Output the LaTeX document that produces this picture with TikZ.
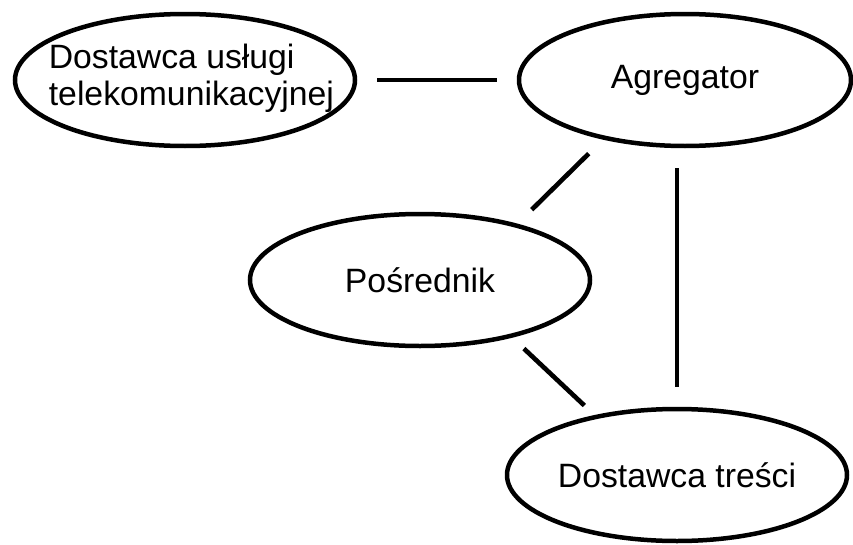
\documentclass[tikz,border=0pt]{standalone}
\usepackage{fontspec}
\setmainfont{Liberation Sans}
\usetikzlibrary{shapes.geometric}

\begin{document}
\begin{tikzpicture}[x=1cm,y=1cm,
  font=\fontsize{24pt}{26pt}\selectfont,
  party/.style={draw, ellipse, line width=3.2pt, minimum width=8.5cm, minimum height=3.3cm, inner sep=0pt},
  link/.style={line width=3.3pt, shorten <=0.5cm, shorten >=0.5cm},
]
\useasboundingbox (0,0) rectangle (21.325,-13.625);
\node[party, label={[align=left, xshift=0.16cm, yshift=0.05cm]center:Dostawca usługi\\telekomunikacyjnej}] (tel) at (4.625,-2.0) {};
\node[party, minimum width=8.3cm, label={center:Agregator}] (agr) at (17.125,-2.0) {};
\node[party, label={center:Pośrednik}] (pos) at (10.5,-7.0) {};
\node[party, label={center:Dostawca treści}] (tre) at (16.925,-11.875) {};
\draw[link] (tel.east) -- (agr.west);
\draw[link] (agr.216.5) -- (pos.30);
\draw[link] (tre.north |- agr.south) -- (tre.north);
\draw[link, shorten <=0.4cm, shorten >=0.35cm] (pos.-32) -- (tre.144.5);
\end{tikzpicture}
\end{document}
